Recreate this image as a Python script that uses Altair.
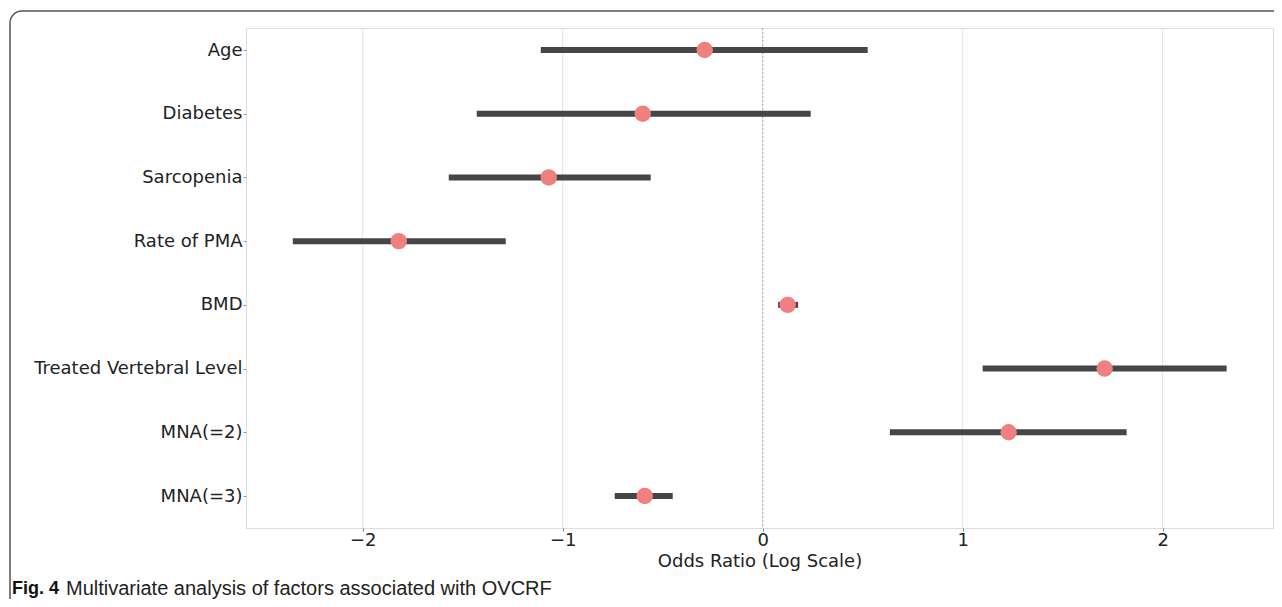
import altair as alt
import pandas as pd

factors = ["Age", "Diabetes", "Sarcopenia", "Rate of PMA", "BMD",
           "Treated Vertebral Level", "MNA(=2)", "MNA(=3)"]
log_or = [-0.29, -0.60, -1.07, -1.82, 0.125, 1.71, 1.23, -0.59]
ci_low = [-1.11, -1.43, -1.57, -2.35, 0.077, 1.10, 0.636, -0.74]
ci_high = [0.525, 0.24, -0.56, -1.285, 0.177, 2.32, 1.82, -0.45]

x_domain = [-2.584, 2.552]
x_ticks = [-2, -1, 0, 1, 2]
x_title = "Odds Ratio (Log Scale)"

df = pd.DataFrame({"factor": factors, "or": log_or, "low": ci_low, "high": ci_high})
grid_df = pd.DataFrame({"g": x_ticks})

FONT = "DejaVu Sans"

xscale = alt.Scale(domain=x_domain, nice=False, zero=False)
yscale = alt.Scale(type="point", domain=factors, range=[22, 468], padding=0)

xaxis = alt.Axis(values=x_ticks, grid=False,
                 domain=False, tickColor="#888", tickSize=3, labelFontSize=18,
                 labelFont=FONT, labelColor="#222", labelPadding=0,
                 titleFont=FONT, titleFontSize=18, titleFontWeight="normal",
                 titleColor="#222", titlePadding=3)
yaxis = alt.Axis(grid=False, domain=False, tickColor="#999", tickSize=3,
                 labelFontSize=18, labelFont=FONT, labelColor="#222",
                 labelPadding=1, labelLimit=0, title=None)

frame = alt.Chart(alt.Data(values=[{}])).mark_rect(
    fill="transparent", stroke="#555", strokeWidth=1.5, cornerRadiusTopLeft=12,
    clip=False
).encode(x=alt.value(-236), x2=alt.value(1100), y=alt.value(-17), y2=alt.value(700))

grid = alt.Chart(grid_df).mark_rule(color="#e2e2e2", strokeWidth=1).encode(
    x=alt.X("g:Q", scale=xscale, axis=xaxis, title=x_title),
    y=alt.value(0), y2=alt.value(500),
)

zero = alt.Chart(pd.DataFrame({"z": [0]})).mark_rule(
    color="#aaa", strokeDash=[2, 2], strokeWidth=1
).encode(x=alt.X("z:Q", scale=xscale, axis=xaxis, title=x_title),
         y=alt.value(0), y2=alt.value(500))

bars = alt.Chart(df).mark_rule(color="#464646", strokeWidth=6).encode(
    x=alt.X("low:Q", scale=xscale, axis=xaxis, title=x_title),
    x2="high:Q",
    y=alt.Y("factor:N", scale=yscale, axis=yaxis, sort=factors),
)

points = alt.Chart(df).mark_point(filled=True, color="#f08080", opacity=1, size=270).encode(
    x=alt.X("or:Q", scale=xscale, axis=xaxis, title=x_title),
    y=alt.Y("factor:N", scale=yscale, axis=yaxis, sort=factors),
)

CAP_FONT = "Liberation Sans"
cap_bold = alt.Chart(alt.Data(values=[{"t": "Fig. 4"}])).mark_text(
    font=CAP_FONT, fontSize=18, fontWeight="bold", align="left",
    baseline="middle", color="#111"
).encode(text="t:N", x=alt.value(-234), y=alt.value(561))

cap_text = alt.Chart(alt.Data(values=[{"t": "Multivariate analysis of factors associated with OVCRF"}])).mark_text(
    font=CAP_FONT, fontSize=20, align="left",
    baseline="middle", color="#222"
).encode(text="t:N", x=alt.value(-180), y=alt.value(561))

chart = alt.layer(frame, grid, zero, bars, points, cap_bold, cap_text).properties(
    width=1027, height=500,
    autosize=alt.AutoSizeParams(type="none"),
    padding={"left": 238, "top": 20, "right": 1, "bottom": 71},
).configure_view(stroke="#cccccc", strokeWidth=1.5).configure(background="white")

chart.save("out.html", embed_options={"renderer": "svg", "actions": False})
